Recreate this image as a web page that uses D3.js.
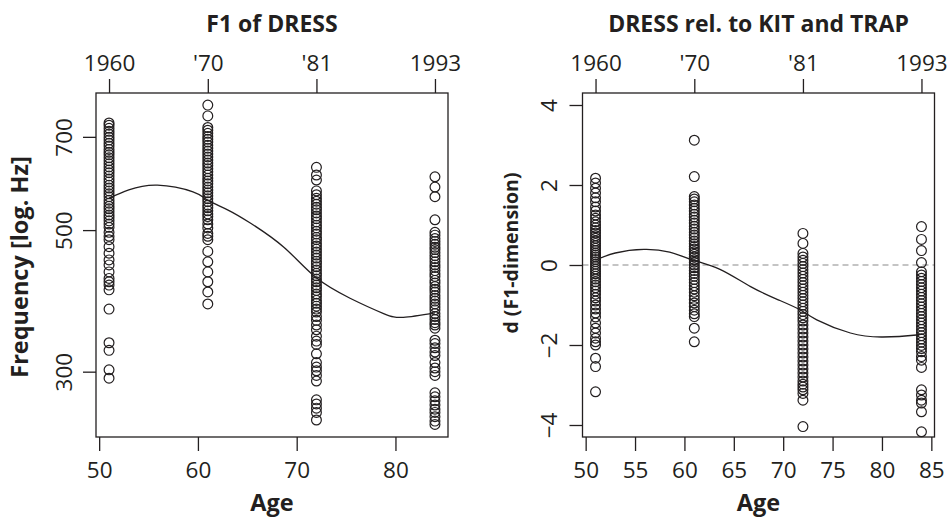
<!DOCTYPE html>
<html>
<head>
<meta charset="utf-8">
<title>F1 of DRESS</title>
<script src="https://d3js.org/d3.v7.min.js"></script>
<style>
 body { margin:0; background:#fff; }
 svg text { font-family:"Open Sans", sans-serif; fill:#231f20; }
 .tick text { font-size:22.5px; }
 .title { font-size:23px; font-weight:bold; }
 .axis-title { font-size:23.5px; font-weight:bold; }
 .frame { fill:none; stroke:#231f20; stroke-width:1.3; }
 .pt { fill:none; stroke:#231f20; stroke-width:1.2; }
 .fit { fill:none; stroke:#231f20; stroke-width:1.3; }
 .zero { stroke:#8a8a8a; stroke-width:1.2; stroke-dasharray:6,4; }
</style>
</head>
<body>
<div id="chart"></div>
<script>
// speaker groups: age at recording and the recording year
var ages = [51, 61, 72, 84];
var yearLabels = ["1960", "'70", "'81", "1993"];

// F1 of DRESS in Hz, one list per recording
var f1_1960 = [736,730,722,714,707,699,692,684,677,669,662,656,649,642,635,628,621,615,608,601,
  595,588,582,576,570,564,557,551,545,540,534,528,523,517,511,505,
  496,489,483,471,460,449,441,430,420,415,410,403,376,333,324,302,293];
var f1_1970 = [785,755,724,717,709,701,694,687,679,672,665,658,651,644,637,631,624,617,610,603,
  597,591,584,578,572,566,560,554,547,542,536,530,525,519,511,504,494,489,483,
  463,446,430,415,400,383];
var f1_1981 = [627,610,599,576,568,561,555,549,543,538,532,526,521,515,509,504,498,493,487,483,
  477,472,467,462,457,452,447,443,438,433,428,424,419,415,410,406,402,397,393,388,
  384,380,376,372,366,361,355,349,341,335,331,320,310,305,301,296,290,271,267,263,259,252];
var f1_1993 = [606,584,564,519,496,491,485,480,475,470,466,461,456,451,446,441,437,432,427,423,
  417,413,408,404,400,395,391,387,383,379,375,370,366,362,358,355,351,
  336,332,327,322,318,310,304,300,296,278,274,270,266,262,259,255,251,248];

// d (F1-dimension), DRESS relative to KIT and TRAP
var d_1960 = [2.17,2.05,1.92,1.8,1.68,1.58,1.45,1.35,1.25,1.17,1.08,1.0,0.93,0.86,0.8,0.73,0.67,0.6,
  0.54,0.48,0.42,0.36,0.3,0.25,0.2,0.14,0.08,0.02,-0.04,-0.1,-0.16,-0.22,-0.28,-0.35,-0.42,-0.5,
  -0.57,-0.65,-0.73,-0.82,-0.9,-1.0,-1.1,-1.2,-1.3,-1.45,-1.58,-1.7,-1.83,-1.92,-2.0,-2.33,-2.54,-3.17];
var d_1970 = [3.12,2.21,1.71,1.65,1.58,1.5,1.42,1.35,1.27,1.2,1.12,1.05,0.97,0.9,0.82,0.75,0.68,0.6,
  0.53,0.46,0.4,0.33,0.27,0.2,0.13,0.07,0.0,-0.07,-0.14,-0.21,-0.28,-0.36,-0.44,-0.52,-0.6,-0.68,
  -0.77,-0.86,-0.95,-1.04,-1.13,-1.22,-1.29,-1.58,-1.92];
var d_1981 = [0.79,0.54,0.29,0.2,0.12,0.04,-0.04,-0.12,-0.2,-0.28,-0.36,-0.44,-0.52,-0.6,-0.68,-0.76,
  -0.84,-0.92,-1.0,-1.08,-1.16,-1.24,-1.32,-1.4,-1.5,-1.6,-1.7,-1.8,-1.9,-2.0,-2.1,-2.2,-2.3,-2.4,
  -2.5,-2.6,-2.7,-2.8,-2.9,-2.98,-3.05,-3.12,-3.21,-3.38,-4.04];
var d_1993 = [0.96,0.64,0.36,0.06,-0.17,-0.25,-0.33,-0.41,-0.49,-0.57,-0.65,-0.73,-0.81,-0.89,-0.97,
  -1.05,-1.13,-1.21,-1.29,-1.37,-1.45,-1.53,-1.61,-1.69,-1.77,-1.85,-1.93,-2.01,-2.09,-2.17,-2.29,
  -2.38,-2.56,-3.12,-3.25,-3.38,-3.45,-3.67,-4.17];

// fitted smooth trend
var fitAge = [51, 53, 55.9, 59.5, 61, 63, 65.3, 68.7, 71.9, 75.4, 78.8, 80.8, 84];
var fitF1 = [561, 578, 588, 574, 557, 538, 513, 470, 422, 391, 370, 365, 371];
var fitDAge = [51, 53, 55.9, 58.5, 60.9, 63.6, 66.7, 69.5, 71.7, 73.4, 76.8, 80.1, 83.5, 84];
var fitD = [0.12, 0.3, 0.39, 0.32, 0.12, -0.11, -0.54, -0.87, -1.12, -1.37, -1.7, -1.8, -1.75, -1.72];

var f1Groups = [f1_1960, f1_1970, f1_1981, f1_1993];
var dGroups = [d_1960, d_1970, d_1981, d_1993];

var W = 949, H = 520, plotTop = 93, plotBottom = 437;

var svg = d3.select("#chart").append("svg")
  .attr("width", W)
  .attr("height", H);

function flatten(groups) {
  var out = [];
  groups.forEach(function(g, i) {
    g.forEach(function(v) { out.push({age: ages[i], v: v}); });
  });
  return out;
}

function drawPanel(p) {
  var ageExt = d3.extent(ages);
  var pad = (ageExt[1] - ageExt[0]) * 0.04;
  var x = d3.scaleLinear().domain([ageExt[0] - pad, ageExt[1] + pad]).range([p.x0, p.x1]);
  var y = p.y;
  var g = svg.append("g");

  if (p.zero) {
    g.append("line").attr("class", "zero")
      .attr("x1", p.x0).attr("x2", p.x1)
      .attr("y1", y(0)).attr("y2", y(0));
  }

  g.selectAll(".pt")
    .data(flatten(p.groups))
    .enter().append("circle")
    .attr("class", "pt")
    .attr("cx", function(d) { return x(d.age); })
    .attr("cy", function(d) { return y(d.v); })
    .attr("r", 4.9);

  var line = d3.line()
    .curve(d3.curveNatural)
    .x(function(d) { return x(d[0]); })
    .y(function(d) { return y(d[1]); });
  g.append("path").attr("class", "fit")
    .attr("d", line(d3.zip(p.fitX, p.fitY)));

  g.append("rect").attr("class", "frame")
    .attr("x", p.x0).attr("y", plotTop)
    .attr("width", p.x1 - p.x0).attr("height", plotBottom - plotTop);

  // bottom axis (age)
  var ax = g.append("g")
    .attr("transform", "translate(0," + plotBottom + ")")
    .style("color", "#231f20")
    .call(d3.axisBottom(x).tickValues(p.xTicks).tickSize(14).tickFormat(d3.format("d")));
  ax.select(".domain").remove();
  ax.selectAll("line").attr("stroke-width", 1.3);
  ax.selectAll("text").attr("dy", null).attr("y", 41);

  // top axis (recording year)
  var at = g.append("g")
    .attr("transform", "translate(0," + plotTop + ")")
    .style("color", "#231f20")
    .call(d3.axisTop(x).tickValues(ages).tickSize(14)
      .tickFormat(function(d, i) { return yearLabels[i]; }));
  at.select(".domain").remove();
  at.selectAll("line").attr("stroke-width", 1.3);
  at.selectAll("text").attr("dy", null).attr("y", -22);

  // left axis
  var al = g.append("g")
    .attr("transform", "translate(" + p.x0 + ",0)")
    .style("color", "#231f20")
    .call(d3.axisLeft(y).tickValues(p.yTicks).tickSize(13).tickFormat(p.yFormat));
  al.select(".domain").remove();
  al.selectAll("line").attr("stroke-width", 1.3);
  al.selectAll("text")
    .attr("transform", "rotate(-90)")
    .attr("x", 0).attr("dy", null)
    .attr("y", p.labelOff)
    .style("text-anchor", "middle");

  svg.append("text").attr("class", "title")
    .attr("x", (p.x0 + p.x1) / 2).attr("y", 32)
    .attr("text-anchor", "middle")
    .text(p.title);

  svg.append("text").attr("class", "axis-title")
    .attr("x", (p.x0 + p.x1) / 2).attr("y", 511)
    .attr("text-anchor", "middle")
    .text("Age");

  svg.append("text").attr("class", "axis-title")
    .attr("transform", "translate(" + p.yLabX + "," + p.yLabY + ") rotate(-90)")
    .attr("text-anchor", "middle")
    .style("font-size", p.yLabSize)
    .text(p.yLabel);
}

drawPanel({
  x0: 96, x1: 448,
  y: d3.scaleLog().domain([237, 820]).range([plotBottom, plotTop]),
  groups: f1Groups,
  fitX: fitAge, fitY: fitF1,
  xTicks: [50, 60, 70, 80],
  yTicks: [300, 500, 700],
  yFormat: d3.format("d"),
  labelOff: -24,
  title: "F1 of DRESS",
  yLabel: "Frequency [log. Hz]",
  yLabSize: "23.5px",
  yLabX: 28, yLabY: 267
});

drawPanel({
  x0: 582.5, x1: 934.5,
  y: d3.scaleLinear().domain([-4.3, 4.3]).range([plotBottom, plotTop]),
  groups: dGroups,
  fitX: fitDAge, fitY: fitD,
  zero: true,
  xTicks: [50, 55, 60, 65, 70, 75, 80, 85],
  yTicks: [-4, -2, 0, 2, 4],
  yFormat: d3.format("d"),
  labelOff: -25.5,
  title: "DRESS rel. to KIT and TRAP",
  yLabel: "d (F1-dimension)",
  yLabSize: "19.5px",
  yLabX: 518, yLabY: 253
});
</script>
</body>
</html>
